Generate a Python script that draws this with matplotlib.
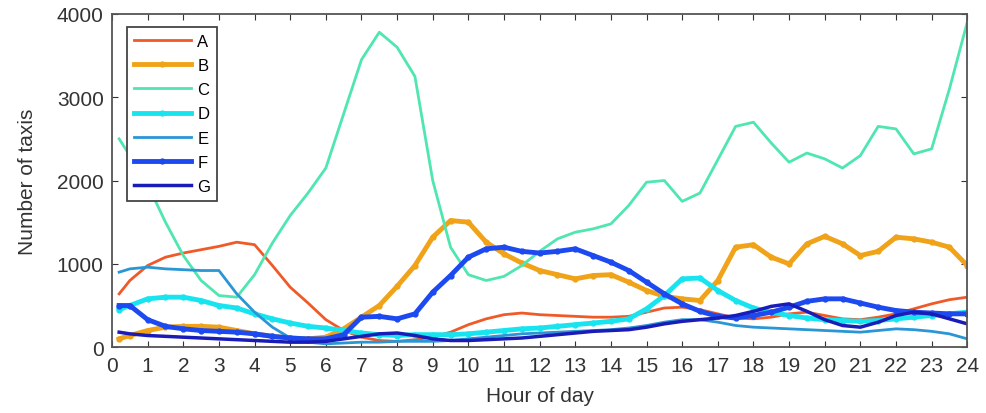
import numpy as np
import matplotlib
matplotlib.use("Agg")
import matplotlib.pyplot as plt

plt.rcParams['font.family'] = ['Liberation Sans', 'DejaVu Sans']

hours = [0.2] + [0.5 * i for i in range(1, 49)]

a_vals = [640, 800, 980, 1080, 1130, 1170, 1210, 1260, 1230, 980, 720, 530, 330, 200, 120, 80, 70,
          90, 120, 180, 270, 340, 390, 410, 390, 380, 370, 360, 360, 370, 420, 470, 480, 450, 400,
          350, 340, 360, 400, 420, 380, 340, 330, 360, 400, 460, 520, 570, 600]
b_vals = [100, 140, 200, 240, 250, 250, 240, 200, 160, 130, 110, 100, 120, 220, 360, 500, 730,
          980, 1320, 1520, 1500, 1260, 1120, 1010, 920, 870, 820, 860, 870, 780, 680, 610, 580, 560,
          800, 1200, 1230, 1080, 1000, 1240, 1330, 1240, 1100, 1150, 1320, 1300, 1260, 1200, 980]
c_vals = [2500, 2300, 1950, 1500, 1100, 800, 620, 600, 870, 1250, 1580, 1850, 2150, 2800, 3450,
          3780, 3600, 3250, 2000, 1200, 870, 800, 850, 980, 1150, 1300, 1380, 1420, 1480, 1700, 1980,
          2000, 1750, 1850, 2250, 2650, 2700, 2450, 2220, 2330, 2260, 2150, 2300, 2650, 2620, 2320,
          2380, 3100, 3900]
d_vals = [450, 500, 580, 600, 600, 560, 500, 470, 400, 340, 290, 250, 230, 200, 170, 150, 140, 150,
          150, 150, 160, 180, 200, 220, 230, 250, 270, 290, 310, 340, 460, 620, 820, 830, 680, 560,
          470, 420, 380, 350, 330, 320, 310, 320, 340, 360, 380, 400, 420]
e_vals = [900, 940, 960, 940, 930, 920, 920, 640, 420, 240, 110, 60, 40, 50, 60, 60, 70, 70, 70, 80,
          100, 120, 140, 160, 170, 180, 190, 200, 210, 230, 260, 300, 330, 330, 300, 260, 240, 230,
          220, 210, 200, 190, 180, 200, 220, 210, 190, 160, 100]
f_vals = [500, 500, 330, 250, 220, 200, 190, 180, 160, 130, 110, 100, 100, 150, 360, 370, 340, 400,
          660, 860, 1080, 1180, 1200, 1150, 1130, 1150, 1180, 1100, 1020, 920, 780, 640, 520, 430,
          370, 350, 380, 420, 480, 550, 580, 580, 530, 480, 440, 420, 410, 400, 400]
g_vals = [180, 160, 140, 130, 120, 110, 100, 90, 80, 70, 60, 60, 70, 100, 130, 160, 170, 140, 100,
          80, 80, 90, 100, 110, 130, 150, 170, 190, 200, 210, 240, 280, 310, 330, 350, 380, 430, 490,
          520, 430, 330, 260, 240, 300, 380, 420, 400, 340, 280]

names = ['A', 'B', 'C', 'D', 'E', 'F', 'G']
series = [a_vals, b_vals, c_vals, d_vals, e_vals, f_vals, g_vals]
colors = ['#F05A28', '#F0A318', '#4FE6B0', '#18E4F0', '#2A96D6', '#1C4AF0', '#1A1CB8']
widths = [2, 3.5, 2, 3.5, 2, 3.5, 2.5]
markers = [None, 'o', None, 'o', None, 'o', None]

fig = plt.figure(figsize=(9.87, 4.14), dpi=100)
ax = fig.add_axes([0.1135, 0.159, 0.8665, 0.805])

for name, vals, c, lw, m in zip(names, series, colors, widths, markers):
    ax.plot(hours, vals, color=c, lw=lw, marker=m, markersize=3.5, label=name)

ax.set_xlim(0, 24)
ax.set_ylim(0, 4000)
ax.set_xticks(range(0, 25))
ax.set_yticks([0, 1000, 2000, 3000, 4000])
ax.tick_params(direction='in', top=True, right=True, labelsize=15, colors='#333333',
               length=4, pad=6)
for s in ax.spines.values():
    s.set_color('#555555')
    s.set_linewidth(1.3)
ax.set_xlabel('Hour of day', fontsize=15, color='#333333', labelpad=8)
ax.set_ylabel('Number of taxis', fontsize=15, color='#333333', labelpad=14)

leg = ax.legend(loc='upper left', bbox_to_anchor=(0.008, 0.985), fontsize=12, frameon=True,
                fancybox=False, handlelength=3.4, labelspacing=0.55, borderpad=0.4,
                handletextpad=0.4, framealpha=1.0)
leg.get_frame().set_edgecolor('#444444')
leg.get_frame().set_linewidth(1.3)

fig.savefig('out.png', dpi=100)
